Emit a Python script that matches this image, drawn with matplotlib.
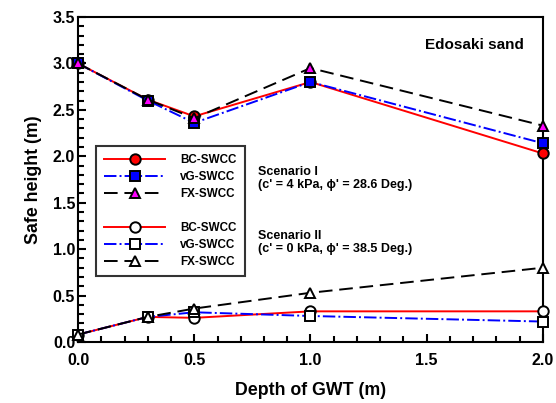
import numpy as np
import matplotlib.pyplot as plt
from matplotlib.ticker import MultipleLocator

plt.rcParams['font.family'] = ['Liberation Sans', 'DejaVu Sans']
plt.rcParams['font.weight'] = 'bold'

# depth of ground water table (m)
depth = [0.0, 0.3, 0.5, 1.0, 2.0]

# Scenario I (c' = 4 kPa, phi' = 28.6 deg)
bc_1 = [3.00, 2.61, 2.43, 2.80, 2.03]
vg_1 = [3.00, 2.60, 2.36, 2.80, 2.14]
fx_1 = [3.00, 2.61, 2.41, 2.95, 2.33]

# Scenario II (c' = 0 kPa, phi' = 38.5 deg)
bc_2 = [0.08, 0.27, 0.26, 0.33, 0.33]
vg_2 = [0.08, 0.27, 0.32, 0.28, 0.22]
fx_2 = [0.08, 0.27, 0.36, 0.53, 0.80]

labels = ['BC-SWCC', 'vG-SWCC', 'FX-SWCC']

fig = plt.figure(figsize=(5.56, 4.03), dpi=100)
ax = fig.add_axes([0.1403, 0.1514, 0.8363, 0.8064])

ms = 7.5
mew = 1.4
lw = 1.4
dash = (0, (7, 3.5))

# scenario I : filled markers
ax.plot(depth, bc_1, color='red', lw=lw, ls='-', marker='o', ms=ms, mfc='red',
        mec='black', mew=mew, label=labels[0], clip_on=False, zorder=3)
ax.plot(depth, vg_1, color='blue', lw=lw, ls='-.', marker='s', ms=ms - 0.5, mfc='blue',
        mec='black', mew=mew, label=labels[1], clip_on=False, zorder=3)
ax.plot(depth, fx_1, color='black', lw=lw, ls=dash, marker='^', ms=ms, mfc='magenta',
        mec='black', mew=mew, label=labels[2], clip_on=False, zorder=3)

# blank row in legend
ax.plot([], [], color='none', label=' ')

# scenario II : open markers
ax.plot(depth, bc_2, color='red', lw=lw, ls='-', marker='o', ms=ms, mfc='white',
        mec='black', mew=mew, label=labels[0], clip_on=False, zorder=3)
ax.plot(depth, vg_2, color='blue', lw=lw, ls='-.', marker='s', ms=ms - 0.5, mfc='white',
        mec='black', mew=mew, label=labels[1], clip_on=False, zorder=3)
ax.plot(depth, fx_2, color='black', lw=lw, ls=dash, marker='^', ms=ms, mfc='white',
        mec='black', mew=mew, label=labels[2], clip_on=False, zorder=3)

ax.set_xlim(0, 2.0)
ax.set_ylim(0, 3.5)
ax.xaxis.set_major_locator(MultipleLocator(0.5))
ax.xaxis.set_minor_locator(MultipleLocator(0.1))
ax.yaxis.set_major_locator(MultipleLocator(0.5))
ax.yaxis.set_minor_locator(MultipleLocator(0.1))
ax.xaxis.set_major_formatter(plt.FormatStrFormatter('%.1f'))
ax.yaxis.set_major_formatter(plt.FormatStrFormatter('%.1f'))

ax.tick_params(which='both', direction='in', top=False, right=False, width=1.5)
ax.tick_params(which='major', length=6, labelsize=11.5)
ax.tick_params(axis='x', which='major', pad=8)
ax.tick_params(axis='y', which='major', pad=2)
ax.tick_params(which='minor', length=4)
for sp in ax.spines.values():
    sp.set_linewidth(1.5)

ax.set_xlabel('Depth of GWT (m)', fontsize=12.8, fontweight='bold', labelpad=10)
ax.set_ylabel('Safe height (m)', fontsize=12.8, fontweight='bold', labelpad=8)

leg = ax.legend(loc='upper left', bbox_to_anchor=(0.0387, 0.603), fontsize=8.4,
                frameon=True, fancybox=False, borderaxespad=0, handlelength=5.2,
                handletextpad=1.3, labelspacing=0.42, borderpad=0.7)
leg.get_frame().set_edgecolor('black')
leg.get_frame().set_linewidth(1.5)

ax.text(0.959, 0.914, 'Edosaki sand', transform=ax.transAxes, ha='right', va='center',
        fontsize=11, fontweight='bold')
ax.text(0.387, 0.503, 'Scenario I\n(c\' = 4 kPa, \u03d5\' = 28.6 Deg.)', transform=ax.transAxes,
        ha='left', va='center', fontsize=9, fontweight='bold', linespacing=1.1)
ax.text(0.387, 0.306, 'Scenario II\n(c\' = 0 kPa, \u03d5\' = 38.5 Deg.)', transform=ax.transAxes,
        ha='left', va='center', fontsize=9, fontweight='bold', linespacing=1.1)

fig.savefig('out.png', dpi=100)
